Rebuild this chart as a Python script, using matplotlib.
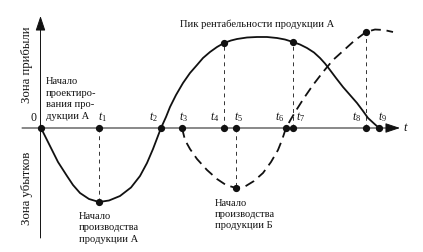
import matplotlib
matplotlib.use("Agg")
import matplotlib.pyplot as plt

plt.rcParams['font.family'] = ['Liberation Serif', 'DejaVu Serif']
plt.rcParams['mathtext.fontset'] = 'custom'
plt.rcParams['mathtext.rm'] = 'Liberation Serif'
plt.rcParams['mathtext.it'] = 'Liberation Serif:italic'

# ---- data ----
t_names = ['t_1', 't_2', 't_3', 't_4', 't_5', 't_6', 't_7', 't_8', 't_9']
t_values = [5.8, 12.0, 14.1, 18.3, 19.5, 24.5, 25.2, 32.5, 33.8]

curve_a_x = [0, 0.9, 1.7, 2.6, 3.2, 3.9, 4.8, 5.8, 6.8, 7.9, 9.0, 9.9, 10.6, 11.2,
             12.0, 12.5, 12.9, 13.5, 14.2, 14.9, 15.6, 16.2, 16.9, 17.6, 18.3,
             19.0, 19.6, 20.6, 21.6, 22.6, 23.6, 24.4, 25.2, 25.9, 26.6, 27.3,
             27.9, 28.4, 28.9, 29.5, 30.2, 30.9, 31.6, 32.2, 32.7, 33.3, 33.8]
curve_a_y = [0, -1.8, -3.4, -4.8, -5.7, -6.5, -7.1, -7.4, -7.25, -6.8, -5.95, -4.8,
             -3.5, -2.1, 0, 1.1, 2.1, 3.3, 4.5, 5.5, 6.3, 7.0, 7.6, 8.1, 8.5,
             8.75, 8.9, 9.05, 9.1, 9.1, 9.0, 8.85, 8.6, 8.35, 8.0, 7.55,
             7.0, 6.45, 5.8, 5.0, 4.1, 3.3, 2.5, 1.7, 1.0, 0.45, 0]

curve_b_x = [14.1, 14.4, 14.9, 15.6, 16.6, 17.6, 18.5, 19.5, 20.4, 21.3, 22.2,
             23.0, 23.7, 24.1, 24.5, 25.0, 25.6, 26.3, 27.2, 28.2, 29.2, 30.2,
             31.3, 32.5, 33.4, 34.3, 35.2]
curve_b_y = [0, -1.2, -2.1, -3.1, -4.2, -5.1, -5.7, -6.0, -5.85, -5.3, -4.5,
             -3.4, -2.2, -1.2, 0, 0.9, 1.9, 3.0, 4.3, 5.6, 6.8, 7.7,
             8.7, 9.6, 9.85, 9.8, 9.6]

# key points on curves (time, value)
key_a_t = [5.8, 18.3, 25.2]
key_a_v = [-7.4, 8.5, 8.6]
key_b_t = [19.5, 32.5]
key_b_v = [-6.0, 9.6]

label_peak = 'Пик рентабельности продукции А'
label_design = 'Начало\nпроектиро-\nвания про-\nдукции А'
label_prod_a = 'Начало\nпроизводства\nпродукции А'
label_prod_b = 'Начало\nпроизводства\nпродукции Б'
label_profit = 'Зона прибыли'
label_loss = 'Зона убытков'

# ---- figure ----
W, H = 423, 252
fig = plt.figure(figsize=(W / 100, H / 100), dpi=100)
ax = fig.add_axes([0, 0, 1, 1])
ax.set_xlim(-4.1, 38.2)
ax.set_ylim(-12.4, 12.8)
ax.axis('off')

ink = '#111111'

# axes with arrows
ax.annotate('', xy=(35.9, 0), xytext=(-1.9, 0),
            arrowprops=dict(arrowstyle='-|>,head_length=0.9,head_width=0.3',
                            color=ink, lw=0.7, shrinkA=0, shrinkB=0))
ax.annotate('', xy=(-0.05, 11.2), xytext=(-0.05, -11.0),
            arrowprops=dict(arrowstyle='-|>,head_length=0.9,head_width=0.3',
                            color=ink, lw=0.7, shrinkA=0, shrinkB=0))

# curves
ax.plot(curve_a_x, curve_a_y, color=ink, lw=1.3, solid_joinstyle='round',
        solid_capstyle='round', zorder=3)
ax.plot(curve_b_x, curve_b_y, color=ink, lw=1.3, dashes=(5.5, 3.2),
        dash_joinstyle='round', zorder=3)

# vertical dashed guides
for tt, vv in list(zip(key_a_t, key_a_v)) + list(zip(key_b_t, key_b_v)):
    ax.plot([tt, tt], [0, vv], color='#333333', lw=0.7, dashes=(4, 4), zorder=2)

# dots
ax.plot([0] + t_values, [0] * (len(t_values) + 1), 'o', color=ink, ms=4.2, zorder=4)
ax.plot(key_a_t + key_b_t, key_a_v + key_b_v, 'o', color=ink, ms=4.2, zorder=4)

# t labels
label_dx = [0.3, -0.8, 0.1, -0.9, 0.3, -0.6, 0.8, -0.9, 0.4]
for name, tv, dx in zip(t_names, t_values, label_dx):
    ax.text(tv + dx, 1.1, '$' + name + '$', fontsize=8.5, color=ink,
            ha='center', va='center')
ax.text(36.5, 0.0, '$t$', fontsize=9, color=ink, ha='center', va='center')
ax.text(-0.75, 1.0, '0', fontsize=8.5, color=ink, ha='center', va='center')

# annotations
fs = 7.6
ax.text(13.9, 10.4, label_peak, fontsize=fs, color=ink, ha='left', va='center')
ax.text(0.5, 2.9, label_design, fontsize=fs, color=ink, ha='left', va='center',
        linespacing=1.4)
ax.text(3.8, -10.0, label_prod_a, fontsize=fs, color=ink, ha='left', va='center',
        linespacing=1.3)
ax.text(17.4, -8.65, label_prod_b, fontsize=fs, color=ink, ha='left', va='center',
        linespacing=1.3)
ax.text(-1.4, 6.3, label_profit, fontsize=9.2, color=ink, rotation=90,
        ha='center', va='center')
ax.text(-1.4, -6.0, label_loss, fontsize=9.2, color=ink, rotation=90,
        ha='center', va='center')

fig.savefig('out.png', dpi=100, facecolor='white')
